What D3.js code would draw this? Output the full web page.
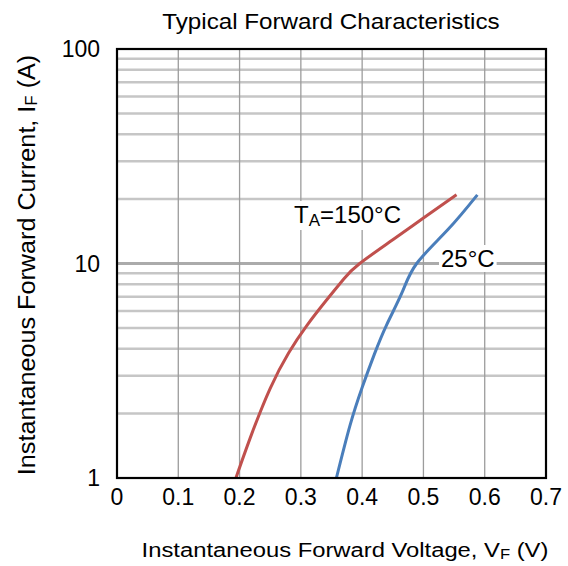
<!DOCTYPE html>
<html>
<head>
<meta charset="utf-8">
<script src="https://cdn.jsdelivr.net/npm/d3@7"></script>
<style>
  body { margin: 0; background: #fff; }
  svg { font-family: "Liberation Sans", Arial, sans-serif; }
</style>
</head>
<body>
<svg id="chart" width="568" height="566"></svg>
<script>
// values
var voltageTicks = [0, 0.1, 0.2, 0.3, 0.4, 0.5, 0.6, 0.7];
var currentTicks = [1, 10, 100];
var minorCurrents = [2, 3, 4, 5, 6, 7, 8, 9, 20, 30, 40, 50, 60, 70, 80, 90];

// TA = 150°C
var hotVoltage = [0.194, 0.22, 0.25, 0.28, 0.31, 0.34, 0.37, 0.396, 0.45, 0.50, 0.554];
var hotCurrent = [1, 1.61, 2.62, 3.83, 5.15, 6.65, 8.47, 10, 12.9, 16.3, 20.9];

// TA = 25°C
var coldVoltage = [0.358, 0.38, 0.40, 0.42, 0.44, 0.465, 0.489, 0.54, 0.588];
var coldCurrent = [1, 1.75, 2.64, 3.78, 5.18, 7.31, 10, 14.4, 20.9];

function pairs(xs, ys) {
  return xs.map(function(x, i) { return [x, ys[i]]; });
}

function drawChart(svg) {
  var left = 117, right = 546, top = 49, bottom = 478;

  var x = d3.scaleLinear().domain([0, 0.7]).range([left, right]);
  var y = d3.scaleLog().domain([1, 100]).range([bottom, top]);

  var grid = svg.append('g').attr('class', 'grid');

  grid.selectAll('line.minor').data(minorCurrents).enter()
    .append('line')
    .attr('class', 'minor')
    .attr('x1', left).attr('x2', right)
    .attr('y1', function(d) { return y(d); })
    .attr('y2', function(d) { return y(d); })
    .attr('stroke', '#c6c6c6')
    .attr('stroke-width', 2.5);

  grid.append('line')
    .attr('x1', left).attr('x2', right)
    .attr('y1', y(10)).attr('y2', y(10))
    .attr('stroke', '#ababab')
    .attr('stroke-width', 3);

  grid.selectAll('line.vert').data(voltageTicks.slice(1, -1)).enter()
    .append('line')
    .attr('class', 'vert')
    .attr('x1', function(d) { return x(d); })
    .attr('x2', function(d) { return x(d); })
    .attr('y1', top).attr('y2', bottom)
    .attr('stroke', '#9c9c9c')
    .attr('stroke-width', 1.3);

  var line = d3.line()
    .curve(d3.curveNatural)
    .x(function(d) { return x(d[0]); })
    .y(function(d) { return y(d[1]); });

  svg.append('path')
    .datum(pairs(hotVoltage, hotCurrent))
    .attr('d', line)
    .attr('fill', 'none')
    .attr('stroke', '#c0504d')
    .attr('stroke-width', 3);

  svg.append('path')
    .datum(pairs(coldVoltage, coldCurrent))
    .attr('d', line)
    .attr('fill', 'none')
    .attr('stroke', '#4a7ebb')
    .attr('stroke-width', 3);

  svg.append('rect')
    .attr('x', left).attr('y', top)
    .attr('width', right - left).attr('height', bottom - top)
    .attr('fill', 'none')
    .attr('stroke', '#000')
    .attr('stroke-width', 2.2);

  // tick labels
  svg.selectAll('text.xtick').data(voltageTicks).enter()
    .append('text')
    .attr('class', 'xtick')
    .attr('x', function(d) { return x(d); })
    .attr('y', 505)
    .attr('text-anchor', 'middle')
    .attr('font-size', 23)
    .text(function(d) { return d3.format('')(d); });

  svg.selectAll('text.ytick').data(currentTicks).enter()
    .append('text')
    .attr('class', 'ytick')
    .attr('x', 100)
    .attr('y', function(d) { return y(d) + 8; })
    .attr('text-anchor', 'end')
    .attr('font-size', 23)
    .text(function(d) { return d; });

  // title and axis titles
  svg.append('text')
    .attr('transform', 'translate(331,29) scale(1.1,1)')
    .attr('text-anchor', 'middle')
    .attr('font-size', 22)
    .text('Typical Forward Characteristics');

  var xTitle = svg.append('text')
    .attr('transform', 'translate(345,557) scale(1.19,1)')
    .attr('text-anchor', 'middle')
    .attr('font-size', 20);
  xTitle.append('tspan').text('Instantaneous Forward Voltage, V');
  xTitle.append('tspan').attr('font-size', 14).attr('dy', 2).text('F');
  xTitle.append('tspan').attr('dy', -2).text(' (V)');

  var yTitle = svg.append('text')
    .attr('transform', 'translate(35,265) rotate(-90) scale(1.05,1)')
    .attr('text-anchor', 'middle')
    .attr('font-size', 24);
  yTitle.append('tspan').text('Instantaneous Forward Current, I');
  yTitle.append('tspan').attr('font-size', 16).attr('dy', 2).text('F');
  yTitle.append('tspan').attr('dy', -2).text(' (A)');

  // curve labels on white boxes
  function curveLabel(px, py, build) {
    var g = svg.append('g');
    var bg = g.append('rect').attr('fill', '#fff');
    var t = g.append('text').attr('x', px).attr('y', py).attr('font-size', 24);
    build(t);
    var b = t.node().getBBox();
    bg.attr('x', b.x - 2).attr('y', b.y)
      .attr('width', b.width + 4).attr('height', b.height);
  }

  curveLabel(294, 223, function(t) {
    t.append('tspan').text('T');
    t.append('tspan').attr('font-size', 17).attr('dy', 3).text('A');
    t.append('tspan').attr('dy', -3).text('=150°C');
  });

  curveLabel(441, 267, function(t) {
    t.text('25°C');
  });
}

drawChart(d3.select('#chart'));
</script>
</body>
</html>
